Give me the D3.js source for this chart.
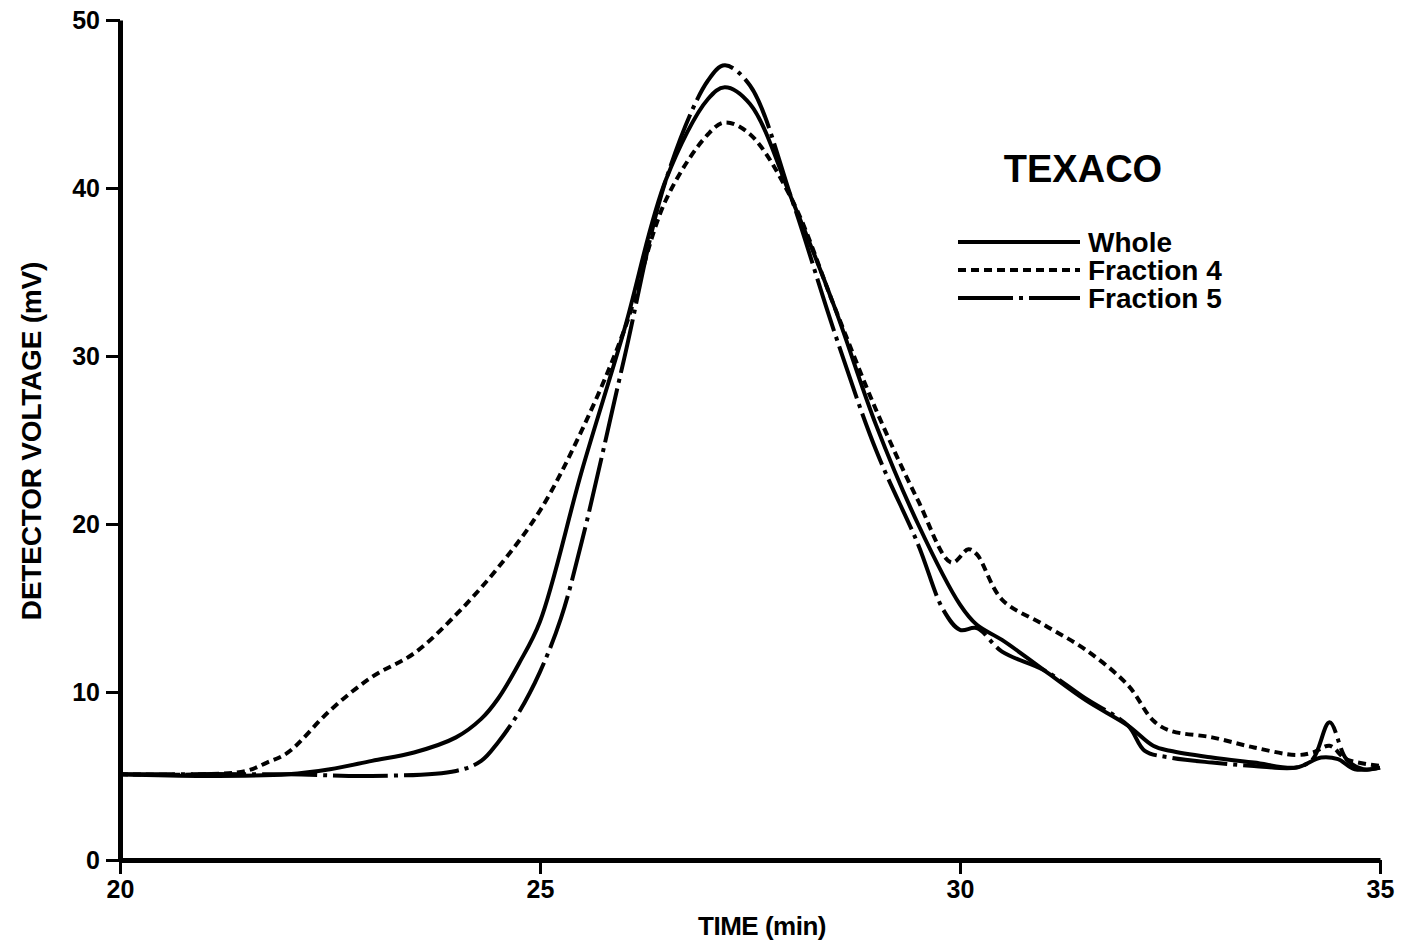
<!DOCTYPE html>
<html><head><meta charset="utf-8">
<script src="https://cdn.jsdelivr.net/npm/d3@7"></script>
<style>html,body{margin:0;padding:0;background:#fff}svg{display:block}</style>
</head><body><svg id="c" width="1403" height="947"></svg>
<script>
const xTicks = [20, 25, 30, 35];
const yTicks = [0, 10, 20, 30, 40, 50];
const legendTitle = "TEXACO";
const seriesNames = ["Whole", "Fraction 4", "Fraction 5"];

const wholeT = [20,21,22,22.5,23,23.5,24,24.3,24.5,24.75,25,25.5,26,26.5,27,27.2,27.5,28,28.5,29,29.5,30,30.2,30.5,31,31.5,32,32.3,32.5,33,33.5,34,34.3,34.5,34.7,35];
const wholeV = [5.1,5.0,5.1,5.4,5.9,6.4,7.3,8.4,9.6,11.7,14.2,23.2,31.5,40.5,45.3,46.0,45.0,39.3,33.0,25.9,20.0,15.2,14.0,13.1,11.3,9.5,8.0,6.8,6.5,6.1,5.8,5.5,6.1,6.0,5.4,5.5];

const frac4T = [20,21,21.5,21.75,22,22.5,23,23.5,24,24.5,25,25.5,26,26.5,27,27.2,27.5,28,28.5,29,29.5,29.9,30.1,30.2,30.5,31,31.5,32,32.3,32.5,33,33.5,34,34.2,34.4,34.6,35];
const frac4V = [5.1,5.1,5.3,5.8,6.4,8.9,10.9,12.3,14.6,17.4,20.8,25.6,31.5,39.3,43.2,43.9,43.2,39.3,33.0,26.8,21.4,17.7,18.5,18.2,15.5,14.0,12.5,10.4,8.3,7.7,7.3,6.7,6.25,6.4,6.8,6.0,5.6];

const frac5T = [20,22,23,24,24.3,24.5,24.75,25,25.25,25.5,26,26.5,27,27.2,27.5,28,28.5,29,29.5,29.8,30,30.2,30.5,31,31.5,32,32.2,32.5,33,33.5,34,34.2,34.4,34.6,34.8,35];
const frac5V = [5.1,5.1,5.0,5.3,5.9,7.0,8.8,11.2,14.4,19.0,29.8,40.5,46.4,47.3,46.1,39.3,31.5,24.4,18.8,14.9,13.7,13.8,12.4,11.3,9.6,8.0,6.5,6.1,5.8,5.6,5.5,6.0,8.2,6.0,5.4,5.5];

const svg = d3.select("#c");
const x = d3.scaleLinear().domain([20, 35]).range([120, 1380]);
const y = d3.scaleLinear().domain([0, 50]).range([860, 20]);
const font = "'Liberation Sans', Arial, sans-serif";

// axes
const xAxis = svg.append("g").attr("transform", "translate(0,860)")
  .call(d3.axisBottom(x).tickValues(xTicks).tickSize(14).tickSizeOuter(0).tickPadding(6));
const yAxis = svg.append("g").attr("transform", "translate(120,0)")
  .call(d3.axisLeft(y).tickValues(yTicks).tickSize(14).tickSizeOuter(0).tickPadding(6));
[xAxis, yAxis].forEach(a => {
  a.select(".domain").attr("stroke", "#000").attr("stroke-width", 5);
  a.selectAll(".tick line").attr("stroke", "#000").attr("stroke-width", 3);
  a.selectAll(".tick text").attr("fill", "#000").attr("font-family", font)
    .attr("font-weight", "bold").attr("font-size", 25);
});

svg.append("text").attr("x", 762).attr("y", 935).attr("text-anchor", "middle")
  .attr("font-family", font).attr("font-weight", "bold").attr("font-size", 26)
  .attr("letter-spacing", "-0.5").text("TIME (min)");
svg.append("text").attr("transform", "translate(41,441) rotate(-90)").attr("text-anchor", "middle")
  .attr("font-family", font).attr("font-weight", "bold").attr("font-size", 28)
  .attr("letter-spacing", "-0.2").text("DETECTOR VOLTAGE (mV)");

const dashes = [null, "8,5", "55,6,4,6"];
const data = [
  wholeT.map((t, i) => [t, wholeV[i]]),
  frac4T.map((t, i) => [t, frac4V[i]]),
  frac5T.map((t, i) => [t, frac5V[i]])
];
const line = d3.line().x(d => x(d[0])).y(d => y(d[1])).curve(d3.curveCatmullRom.alpha(0.5));
data.forEach((d, i) => {
  svg.append("path").datum(d).attr("d", line).attr("fill", "none")
    .attr("stroke", "#000").attr("stroke-width", 4)
    .attr("stroke-dasharray", dashes[i]);
});

// legend
svg.append("text").attr("x", 1083).attr("y", 182).attr("text-anchor", "middle")
  .attr("font-family", font).attr("font-weight", "bold").attr("font-size", 38)
  .text(legendTitle);
seriesNames.forEach((n, i) => {
  const yy = 242 + i * 28;
  svg.append("line").attr("x1", 958).attr("x2", 1080).attr("y1", yy).attr("y2", yy)
    .attr("stroke", "#000").attr("stroke-width", 4).attr("stroke-dasharray", dashes[i]);
  svg.append("text").attr("x", 1088).attr("y", yy + 10)
    .attr("font-family", font).attr("font-weight", "bold").attr("font-size", 28)
    .text(n);
});
</script></body></html>
